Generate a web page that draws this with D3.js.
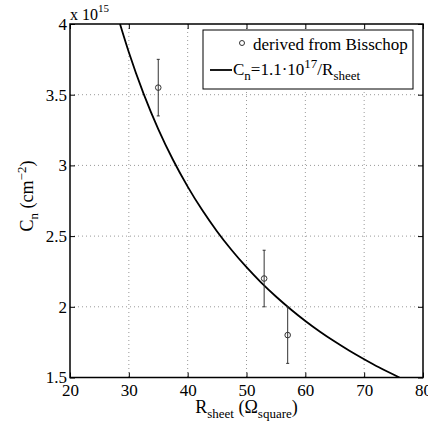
<!DOCTYPE html>
<html>
<head>
<meta charset="utf-8">
<script src="https://cdn.jsdelivr.net/npm/d3@7"></script>
<style>
  body { margin: 0; background: #fff; }
  svg text { font-family: "Liberation Serif", "DejaVu Serif", serif; fill: #000; }
  .grid line { stroke: #999; stroke-dasharray: 1,3; stroke-width: 1; }
</style>
</head>
<body>
<div class="container"></div>
<script>
const WIDTH = 428;
const HEIGHT = 430;
const LEFT = 70, RIGHT = 423, TOP = 24, BOTTOM = 377.5;

// measured points (R_sheet, C_n / 1e15) with error half-widths
var pointR = [35, 53, 57];
var pointC = [3.55, 2.2, 1.8];
var pointErr = [0.2, 0.2, 0.2];

// fitted curve
var curveR = [28.5, 30, 32.5, 35, 37.5, 40, 42.5, 45, 47.5, 50, 52.5, 55, 57.5, 60, 62.5, 65, 67.5, 70, 72.5, 76];
var curveC = [4.0, 3.8, 3.508, 3.257, 3.04, 2.85, 2.682, 2.533, 2.4, 2.28, 2.171, 2.073, 1.983, 1.9, 1.824, 1.754, 1.689, 1.629, 1.572, 1.5];

var xTicks = [20, 30, 40, 50, 60, 70, 80];
var yTicks = [1.5, 2, 2.5, 3, 3.5, 4];

var translate = function (x, y) {
  return 'translate(' + x + ',' + y + ')';
};

var svg = d3.select('.container').append('svg')
  .attr('width', WIDTH)
  .attr('height', HEIGHT);

var x = d3.scaleLinear().domain([20, 80]).range([LEFT, RIGHT]);
var y = d3.scaleLinear().domain([1.5, 4]).range([BOTTOM, TOP]);

// grid
var grid = svg.append('g').classed('grid', true);
grid.selectAll('.vx').data(xTicks.slice(1, -1)).enter().append('line')
  .attr('x1', d => x(d)).attr('x2', d => x(d))
  .attr('y1', TOP).attr('y2', BOTTOM);
grid.selectAll('.hy').data(yTicks.slice(1, -1)).enter().append('line')
  .attr('y1', d => y(d)).attr('y2', d => y(d))
  .attr('x1', LEFT).attr('x2', RIGHT);

// axes (ticks inward)
var fmt = d3.format('');
var styleAxis = function (g) {
  g.select('.domain').remove();
  g.attr('font-family', null).attr('font-size', null);
  g.selectAll('text').style('font-size', '17px');
};
svg.append('g').attr('transform', translate(0, BOTTOM))
  .call(d3.axisBottom(x).tickValues(xTicks).tickSize(-5).tickPadding(6).tickFormat(fmt))
  .call(styleAxis);
svg.append('g').attr('transform', translate(0, TOP))
  .call(d3.axisTop(x).tickValues(xTicks).tickSize(-5).tickFormat(''))
  .call(styleAxis);
svg.append('g').attr('transform', translate(LEFT, 0))
  .call(d3.axisLeft(y).tickValues(yTicks).tickSize(-5).tickPadding(3).tickFormat(fmt))
  .call(styleAxis);
svg.append('g').attr('transform', translate(RIGHT, 0))
  .call(d3.axisRight(y).tickValues(yTicks).tickSize(-5).tickFormat(''))
  .call(styleAxis);

svg.selectAll('.tick line').attr('stroke', '#000');

// clip
svg.append('clipPath').attr('id', 'clip').append('rect')
  .attr('x', LEFT).attr('y', TOP).attr('width', RIGHT - LEFT).attr('height', BOTTOM - TOP);

// curve
var line = d3.line()
  .curve(d3.curveMonotoneX)
  .x(function (d, i) { return x(curveR[i]); })
  .y(function (d, i) { return y(curveC[i]); });
svg.append('path')
  .attr('clip-path', 'url(#clip)')
  .attr('d', line(curveR))
  .attr('fill', 'none').attr('stroke', '#000').attr('stroke-width', 1.8);

// error bars
var eb = svg.append('g');
pointR.forEach(function (r, i) {
  var cx = x(r);
  eb.append('line').attr('x1', cx).attr('x2', cx)
    .attr('y1', y(pointC[i] - pointErr[i])).attr('y2', y(pointC[i] + pointErr[i]))
    .attr('stroke', '#333').attr('stroke-width', 1);
  [pointC[i] - pointErr[i], pointC[i] + pointErr[i]].forEach(function (v) {
    eb.append('line').attr('x1', cx - 1.5).attr('x2', cx + 1.5)
      .attr('y1', y(v)).attr('y2', y(v)).attr('stroke', '#333');
  });
  eb.append('circle').attr('cx', cx).attr('cy', y(pointC[i])).attr('r', 2.8)
    .attr('fill', 'none').attr('stroke', '#333').attr('stroke-width', 1);
});

// frame
svg.append('rect').attr('x', LEFT).attr('y', TOP).attr('width', RIGHT - LEFT).attr('height', BOTTOM - TOP)
  .attr('fill', 'none').attr('stroke', '#000').attr('stroke-width', 1.5);

// exponent label
var ex = svg.append('text').attr('x', LEFT).attr('y', 20).style('font-size', '16px');
ex.append('tspan').text('x 10');
ex.append('tspan').attr('dy', -8).style('font-size', '11px').text('15');

// legend
var lg = svg.append('g');
lg.append('rect').attr('x', 203).attr('y', 30).attr('width', 210).attr('height', 59)
  .attr('fill', '#fff').attr('stroke', '#000').attr('stroke-width', 1);
lg.append('circle').attr('cx', 242).attr('cy', 43).attr('r', 2.5).attr('fill', 'none').attr('stroke', '#333');
lg.append('text').attr('x', 253).attr('y', 50).style('font-size', '17px').text('derived from Bisschop');
lg.append('line').attr('x1', 210).attr('x2', 232).attr('y1', 70).attr('y2', 70).attr('stroke', '#000').attr('stroke-width', 1.8);
var lt = lg.append('text').attr('x', 233).attr('y', 75).style('font-size', '17px');
lt.append('tspan').text('C');
lt.append('tspan').attr('dy', 5).style('font-size', '13px').text('n');
lt.append('tspan').attr('dy', -5).text('=1.1\u00b710');
lt.append('tspan').attr('dy', -7).style('font-size', '13px').text('17');
lt.append('tspan').attr('dy', 7).text('/R');
lt.append('tspan').attr('dy', 5).style('font-size', '13px').text('sheet');

// x label
var xl = svg.append('text').attr('x', (LEFT + RIGHT) / 2).attr('y', 413)
  .attr('text-anchor', 'middle').style('font-size', '18px');
xl.append('tspan').text('R');
xl.append('tspan').attr('dy', 5).style('font-size', '13px').text('sheet');
xl.append('tspan').attr('dy', -5).text(' (\u03a9');
xl.append('tspan').attr('dy', 5).style('font-size', '13px').text('square');
xl.append('tspan').attr('dy', -5).text(')');

// y label
var yl = svg.append('text').attr('transform', translate(33, 196) + ' rotate(-90)')
  .attr('text-anchor', 'middle').style('font-size', '18px');
yl.append('tspan').text('C');
yl.append('tspan').attr('dy', 5).style('font-size', '13px').text('n');
yl.append('tspan').attr('dy', -5).text(' (cm');
yl.append('tspan').attr('dy', -7).style('font-size', '13px').text('\u22122');
yl.append('tspan').attr('dy', 7).text(')');
</script>
</body>
</html>
